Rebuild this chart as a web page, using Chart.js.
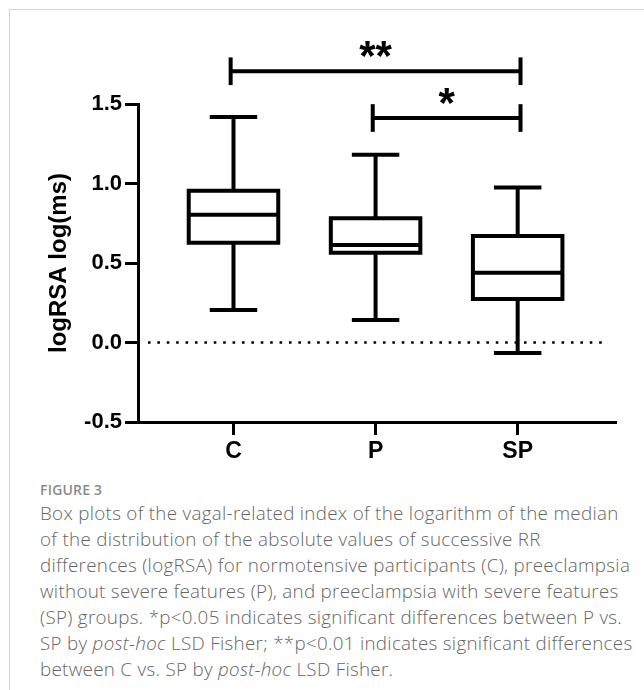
<!DOCTYPE html>
<html><head><meta charset="utf-8">
<script src="https://cdn.jsdelivr.net/npm/chart.js@4.4.1/dist/chart.umd.min.js"></script>
<style>
html,body{margin:0;padding:0;background:#fff;width:644px;height:690px;overflow:hidden;}
#frame{position:absolute;left:9px;top:9px;width:800px;height:800px;border-top:1px solid #d4d4d4;border-left:1px solid #d4d4d4;}
#wrap{position:absolute;left:0;top:0;width:644px;height:470px;}
#cap{position:absolute;left:40px;top:480px;font-family:"Open Sans",sans-serif;color:#666;}
.fig{font-size:14px;font-weight:600;color:#8a8a8a;letter-spacing:0.2px;line-height:20px;}
.ln{font-size:18.8px;font-weight:300;letter-spacing:0.3px;line-height:26px;white-space:nowrap;}
</style></head>
<body>
<div id="frame"></div>
<div id="wrap"><canvas id="c" width="644" height="470"></canvas></div>
<div id="cap">
<div class="fig">FIGURE 3</div>
<div class="ln">Box plots of the vagal-related index of the logarithm of the median</div>
<div class="ln">of the distribution of the absolute values of successive RR</div>
<div class="ln">differences (logRSA) for normotensive participants (C), preeclampsia</div>
<div class="ln">without severe features (P), and preeclampsia with severe features</div>
<div class="ln">(SP) groups. *p&lt;0.05 indicates significant differences between P vs.</div>
<div class="ln">SP by <i>post-hoc</i> LSD Fisher; **p&lt;0.01 indicates significant differences</div>
<div class="ln">between C vs. SP by <i>post-hoc</i> LSD Fisher.</div>
</div>
<script>
// ---- data ----
const categories = ['C', 'P', 'SP'];
const whiskerLow  = [0.204, 0.141, -0.066];
const q1          = [0.628, 0.565, 0.273];
const median      = [0.803, 0.613, 0.439];
const q3          = [0.954, 0.782, 0.670];
const whiskerHigh = [1.419, 1.181, 0.975];
const yTicks      = [-0.5, 0.0, 0.5, 1.0, 1.5];
const yTickLabels = ['-0.5', '0.0', '0.5', '1.0', '1.5'];
const compFrom    = [0, 1];
const compTo      = [2, 2];
const compLabels  = ['**', '*'];
const compLevel   = [1.706, 1.412];
const refLineValue = 0.0;

// ---- geometry (style) ----
const BOX_HW = 0.315, CAP_HW = 0.167, BR_PAD = 0.02, BR_CAP = 0.087;
const LW = 4;

const datasets = [];
function seg(points, extra) {
  datasets.push(Object.assign({
    data: points, showLine: true, borderColor: '#000', backgroundColor: '#000',
    borderWidth: LW, pointRadius: 0, pointHoverRadius: 0, fill: false,
    borderCapStyle: 'butt', borderJoinStyle: 'miter', tension: 0, clip: false
  }, extra || {}));
}
// reference dotted line at 0
seg([{x: -0.602, y: refLineValue}, {x: 2.616, y: refLineValue}], {borderWidth: 2.6, borderDash: [2.6, 6.8]});

categories.forEach((c, i) => {
  seg([{x: i, y: q3[i]}, {x: i, y: whiskerHigh[i]}]);
  seg([{x: i, y: q1[i]}, {x: i, y: whiskerLow[i]}]);
  seg([{x: i - CAP_HW, y: whiskerHigh[i]}, {x: i + CAP_HW, y: whiskerHigh[i]}]);
  seg([{x: i - CAP_HW, y: whiskerLow[i]}, {x: i + CAP_HW, y: whiskerLow[i]}]);
  seg([{x: i - BOX_HW, y: q1[i]}, {x: i + BOX_HW, y: q1[i]}, {x: i + BOX_HW, y: q3[i]},
       {x: i - BOX_HW, y: q3[i]}, {x: i - BOX_HW, y: q1[i]}], {borderCapStyle: 'square'});
  seg([{x: i - BOX_HW, y: median[i]}, {x: i + BOX_HW, y: median[i]}]);
});

compFrom.forEach((f, k) => {
  const a = compFrom[k] - BR_PAD, b = compTo[k] + BR_PAD, y = compLevel[k];
  seg([{x: a, y: y}, {x: b, y: y}]);
  seg([{x: a, y: y - BR_CAP}, {x: a, y: y + BR_CAP}]);
  seg([{x: b, y: y - BR_CAP}, {x: b, y: y + BR_CAP}]);
});

const starPlugin = {
  id: 'stars',
  afterDatasetsDraw(chart) {
    const ctx = chart.ctx, xs = chart.scales.x, ys = chart.scales.y;
    ctx.save();
    ctx.fillStyle = '#000';
    ctx.font = 'bold 42px "Liberation Sans", Arial, sans-serif';
    ctx.textAlign = 'center';
    ctx.textBaseline = 'alphabetic';
    compLabels.forEach((t, k) => {
      const x = xs.getPixelForValue((compFrom[k] + compTo[k]) / 2);
      const y = ys.getPixelForValue(compLevel[k]);
      ctx.fillText(t, x, y - 1);
    });
    ctx.restore();
  }
};

const FONT = '"Liberation Sans", Arial, sans-serif';
new Chart(document.getElementById('c'), {
  type: 'scatter',
  data: { datasets },
  plugins: [starPlugin],
  options: {
    responsive: false, animation: false, events: [],
    layout: { padding: { top: 104, right: 29, left: 0, bottom: 0 } },
    plugins: { legend: { display: false }, tooltip: { enabled: false } },
    scales: {
      x: {
        type: 'linear', min: -0.672, max: 2.685,
        afterBuildTicks: s => { s.ticks = [0, 1, 2].map(v => ({ value: v })); },
        afterFit: s => { s.height = 48; },
        ticks: { callback: v => categories[v], color: '#000', font: { family: FONT, size: 23, weight: 'bold' }, padding: 3, maxRotation: 0, autoSkip: false },
        grid: { display: true, drawOnChartArea: false, drawTicks: true, tickLength: 13, lineWidth: 3, color: '#000' },
        border: { display: true, width: 3, color: '#000' }
      },
      y: {
        type: 'linear', min: -0.5, max: 1.5,
        afterBuildTicks: s => { s.ticks = yTicks.map(v => ({ value: v })); },
        afterFit: s => { s.width = 138; },
        ticks: { callback: v => yTickLabels[yTicks.indexOf(v)], color: '#000', font: { family: FONT, size: 22, weight: 'bold' }, padding: 3, autoSkip: false },
        grid: { display: true, drawOnChartArea: false, drawTicks: true, tickLength: 13, lineWidth: 3, color: '#000' },
        border: { display: true, width: 3, color: '#000' },
        title: { display: true, text: 'logRSA log(ms)', color: '#000', font: { family: FONT, size: 24, weight: 'bold' }, padding: { top: 45, bottom: 0 } }
      }
    }
  }
});
</script>
</body></html>
